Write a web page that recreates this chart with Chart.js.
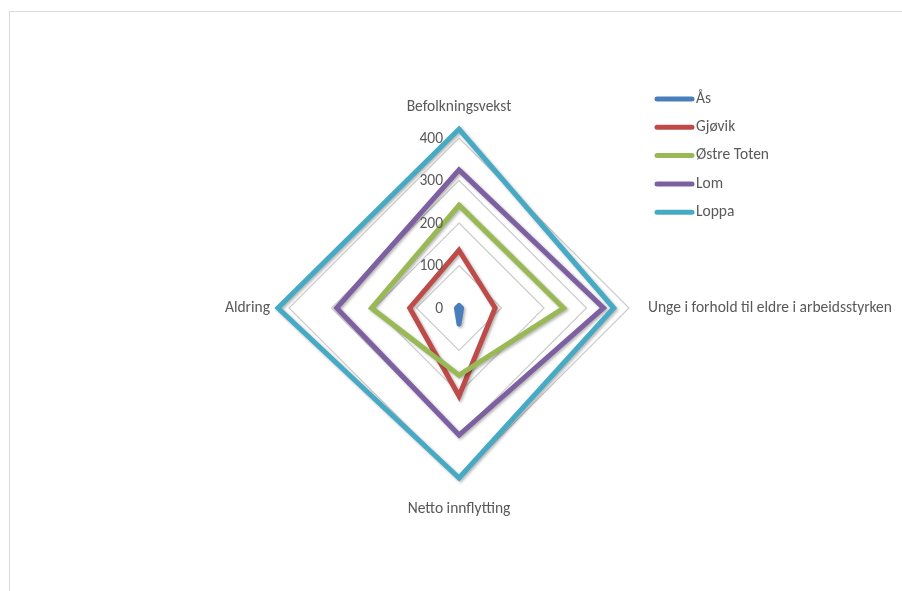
<!DOCTYPE html>
<html>
<head>
<meta charset="utf-8">
<script src="https://cdn.jsdelivr.net/npm/chart.js@4.4.0/dist/chart.umd.min.js"></script>
<style>
body{margin:0;background:#fff;overflow:hidden;}
#wrap{position:relative;width:902px;height:591px;overflow:hidden;}
#frame{position:absolute;left:9px;top:11px;width:1000px;height:1000px;border:1px solid #d9d9d9;}
#radarChart{position:absolute;left:0;top:0;}
</style>
</head>
<body>
<div id="wrap"><div id="frame"></div><canvas id="radarChart" width="902" height="591"></canvas></div>
<script>
const categories=['Befolkningsvekst','Unge i forhold til eldre i arbeidsstyrken','Netto innflytting','Aldring'];
const tickVals=[0,100,200,300,400];

const As=[6,6,38,6];
const Gjovik=[136,85,207,116];
const OstreToten=[242,246,158,206];
const Lom=[325,340,299,288];
const Loppa=[421,364,400,426];

const names=['Ås','Gjøvik','Østre Toten','Lom','Loppa'];
const colors=['#4a7ebb','#be4b48','#98b954','#7d60a0','#46aac5'];

const txtColor='#595959';
const txtFont='15.5px Calibri, Carlito, Lato, sans-serif';

//ombra leggera sotto le linee, come in Excel
const shadowPlugin={
    id:'shadow',
    beforeDatasetsDraw:(chart)=>{
        let ctx=chart.ctx;
        ctx.save();
        ctx.shadowColor='rgba(0,0,0,0.3)';
        ctx.shadowBlur=3;
        ctx.shadowOffsetX=1.5;
        ctx.shadowOffsetY=1.5;
    },
    afterDatasetsDraw:(chart)=>{
        chart.ctx.restore();
    }
}

const labelPlugin={
    id:'excelLabels',
    afterDraw:(chart)=>{
        let ctx=chart.ctx;
        let r=chart.scales.r;
        ctx.save();
        ctx.font=txtFont;
        ctx.fillStyle=txtColor;
        ctx.textBaseline='middle';

        //etichette dei tick a sinistra dell'asse verticale
        ctx.textAlign='right';
        r.ticks.forEach((t)=>{
            ctx.fillText(t.label,r.xCenter-16,r.yCenter-r.getDistanceFromCenterForValue(t.value)+1);
        })

        //nomi degli assi
        categories.forEach((c,i)=>{
            let gap=(i%2==0)?31:19;
            let p=r.getPointPosition(i,r.drawingArea+gap);
            ctx.textAlign=i==1?'left':(i==3?'right':'center');
            ctx.fillText(c,p.x,p.y);
        })

        //legenda
        chart.data.datasets.forEach((ds,i)=>{
            let y=99+28.3*i;
            ctx.beginPath();
            ctx.strokeStyle=ds.borderColor;
            ctx.lineWidth=5;
            ctx.lineCap='round';
            ctx.moveTo(657,y);
            ctx.lineTo(692,y);
            ctx.stroke();
            ctx.textAlign='left';
            ctx.fillText(ds.label,696,y);
        })
        ctx.restore();
    }
}

const series=[As,Gjovik,OstreToten,Lom,Loppa];

const ctx=document.getElementById('radarChart').getContext('2d');
const myChart=new Chart(ctx,{
    type:'radar',
    data:{
        labels:categories,
        datasets:series.map((s,i)=>({
            label:names[i],
            data:s,
            borderColor:colors[i],
            backgroundColor:colors[i],
            borderJoinStyle:i==0?'round':'miter',
            fill:false,
            clip:false,
            order:series.length-i
        }))
    },
    options:{
        responsive:false,
        animation:false,
        layout:{padding:{left:289,top:138,right:273,bottom:113}},
        plugins:{
            legend:{display:false},
            tooltip:{enabled:false}
        },
        elements:{
            line:{borderWidth:5,tension:0},
            point:{radius:0,hoverRadius:0}
        },
        scales:{
            r:{
                min:0,
                max:400,
                afterBuildTicks:(s)=>{s.ticks=tickVals.map(v=>({value:v}))},
                ticks:{display:false},
                grid:{color:'#cccccc',lineWidth:1.2},
                angleLines:{display:false},
                pointLabels:{display:false}
            }
        }
    },
    plugins:[shadowPlugin,labelPlugin]
});
</script>
</body>
</html>
